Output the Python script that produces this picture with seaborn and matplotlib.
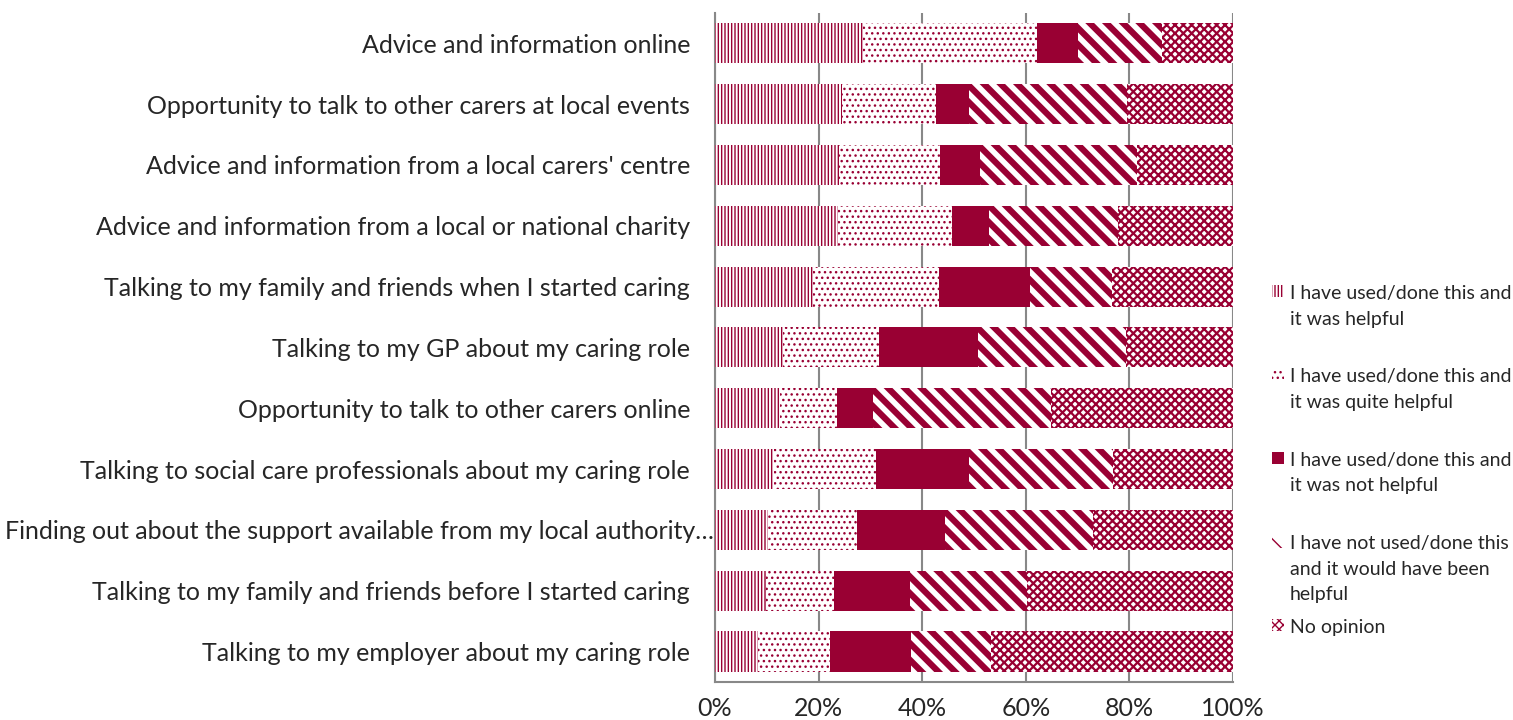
import numpy as np
import pandas as pd
import matplotlib.pyplot as plt
import seaborn as sns
from matplotlib.patches import Patch
from matplotlib.ticker import FuncFormatter
from matplotlib.transforms import ScaledTranslation

# ------------------------------
# Data (percent of respondents)
# ------------------------------
categories = [
    "Advice and information online",
    "Opportunity to talk to other carers at local events",
    "Advice and information from a local carers' centre",
    "Advice and information from a local or national charity",
    "Talking to my family and friends when I started caring",
    "Talking to my GP about my caring role",
    "Opportunity to talk to other carers online",
    "Talking to social care professionals about my caring role",
    "Finding out about the support available from my local authority…",
    "Talking to my family and friends before I started caring",
    "Talking to my employer about my caring role",
]

helpful = [28.6, 24.5, 23.9, 23.7, 19.0, 13.2, 12.6, 11.3, 10.2, 9.9, 8.2]
quite_helpful = [33.6, 18.1, 19.5, 22.1, 24.2, 18.5, 11.0, 19.8, 17.2, 13.1, 13.9]
not_helpful = [7.8, 6.5, 7.8, 7.1, 17.5, 19.0, 6.9, 17.9, 16.9, 14.7, 15.8]
would_help = [16.2, 30.5, 30.3, 24.9, 15.9, 28.6, 34.4, 27.8, 28.7, 22.6, 15.3]
no_opinion = [13.8, 20.4, 18.5, 22.2, 23.4, 20.7, 35.1, 23.2, 27.0, 39.7, 46.8]

series_labels = [
    "I have used/done this and\nit was helpful",
    "I have used/done this and\nit was quite helpful",
    "I have used/done this and\nit was not helpful",
    "I have not used/done this\nand it would have been\nhelpful",
    "No opinion",
]

# ------------------------------
# Styling
# ------------------------------
sns.set_style("white")
plt.rcParams["font.family"] = ["Lato", "DejaVu Sans"]

RED = "#990033"
GREY = "#888888"

# hatch, hatch linewidth, solid fill? per series
styles = [
    ("|||||", 1.0, False),
    ("...", 1.0, False),
    ("", 1.0, True),
    ("\\\\", 4.5, False),
    ("xxxx", 1.6, False),
]

df = pd.DataFrame({
    "category": categories,
    "s1": helpful,
    "s2": quite_helpful,
    "s3": not_helpful,
    "s4": would_help,
    "s5": no_opinion,
})
cols = ["s1", "s2", "s3", "s4", "s5"]
cum = df[cols].cumsum(axis=1)

fig = plt.figure(figsize=(15.13, 7.2), dpi=100)
ax = fig.add_axes([0.4726, 0.053, 0.3424, 0.929])

# draw from the full stack down so each shorter layer covers the previous
for i in reversed(range(5)):
    hatch, hlw, solid = styles[i]
    n_before = len(ax.patches)
    sns.barplot(
        x=cum[cols[i]], y=df["category"], orient="h", ax=ax,
        color="white", width=0.66, linewidth=0, zorder=3,
    )
    for p in ax.patches[n_before:]:
        p.set_facecolor(RED if solid else "white")
        p.set_edgecolor(RED)
        p.set_linewidth(0)
        if hatch:
            p.set_hatch(hatch)
            if hasattr(p, "set_hatch_linewidth"):
                p.set_hatch_linewidth(hlw)

# ------------------------------
# Axes
# ------------------------------
ax.set_xlim(0, 100)
ax.set_ylim(10.5, -0.5)
ax.set_xticks(np.arange(0, 101, 20))
ax.xaxis.set_major_formatter(FuncFormatter(lambda v, _: f"{v:.0f}%"))
ax.set_xlabel("")
ax.set_ylabel("")
ax.grid(axis="x", color=GREY, linewidth=1.5, zorder=0)
ax.set_axisbelow(True)

for s in ["top", "right"]:
    ax.spines[s].set_visible(False)
for s in ["left", "bottom"]:
    ax.spines[s].set_color(GREY)
    ax.spines[s].set_linewidth(1.5)

ax.tick_params(axis="x", length=6, width=1.5, color=GREY, labelsize=18, pad=5)
ax.tick_params(axis="y", which="major", length=0, labelsize=18, pad=18)
ax.set_yticks(np.arange(-0.5, 11, 1), minor=True)
ax.tick_params(axis="y", which="minor", length=6, width=1.5, color=GREY)

# the truncated label runs further right, up to the axis
long_lab = ax.yaxis.get_major_ticks()[8].label1
long_lab.set_transform(long_lab.get_transform()
                       + ScaledTranslation(0.24, 0, fig.dpi_scale_trans))

# ------------------------------
# Legend
# ------------------------------
handles = []
for i in range(5):
    hatch, hlw, solid = styles[i]
    handles.append(Patch(facecolor=RED if solid else "white", edgecolor=RED,
                         hatch=hatch, linewidth=0))
labels = [l + "\n" if l.count("\n") == 1 else l for l in series_labels]

leg = ax.legend(
    handles, labels, loc="upper left", bbox_to_anchor=(0.841, 0.604),
    bbox_transform=fig.transFigure, frameon=False, fontsize=14,
    handlelength=0.6, handleheight=0.6, handletextpad=0.3,
    labelspacing=0.8, borderpad=0, borderaxespad=0,
)
for t in leg.get_texts():
    t.set_linespacing(1.6)
for col in leg._legend_handle_box.get_children():
    for row in col.get_children():
        row.align = "top"

plt.savefig("out.png", dpi=100)
